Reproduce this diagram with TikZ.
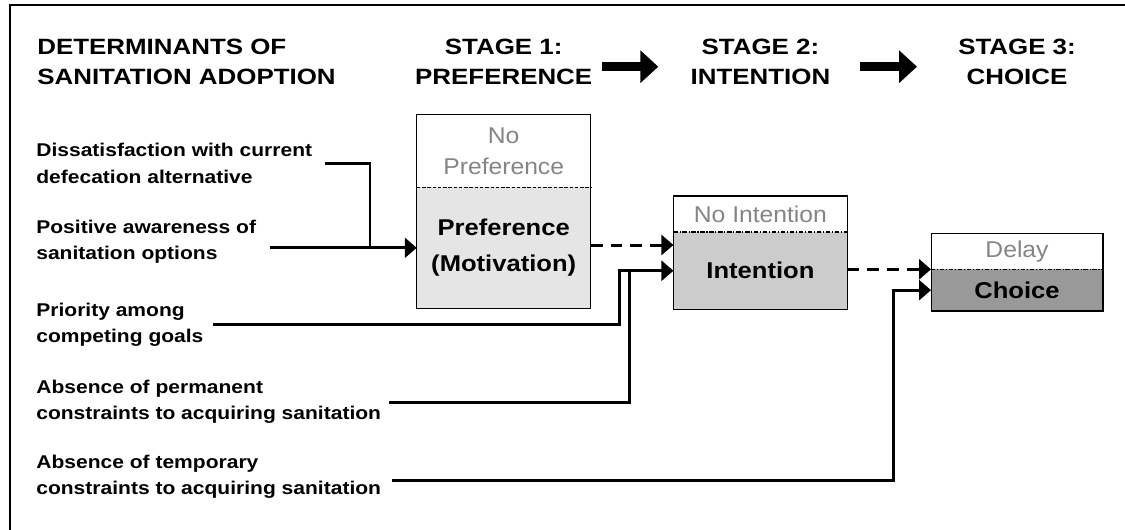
\documentclass[tikz,border=0pt]{standalone}
\usepackage{fontspec}
\setmainfont{Liberation Sans}
\newfontfamily\labfont[FakeStretch=1.14]{Liberation Sans}
\newfontfamily\hdfont[FakeStretch=1.17]{Liberation Sans}
\newfontfamily\boxfont[FakeStretch=1.12]{Liberation Sans}
\newfontfamily\grayfont[FakeStretch=1.08]{Liberation Sans}
\usetikzlibrary{arrows.meta}
\definecolor{fillA}{gray}{0.90}
\definecolor{fillB}{gray}{0.80}
\definecolor{fillC}{gray}{0.60}
\definecolor{graytxt}{gray}{0.52}
\begin{document}
\begin{tikzpicture}[x=0.02cm,y=-0.02cm,
  lab/.style={font=\labfont\bfseries\fontsize{10.5}{15.3}\selectfont, inner sep=0pt, anchor=base west},
  hd/.style={font=\hdfont\bfseries\fontsize{12.6}{17.4}\selectfont, inner sep=0pt},
  boxtop/.style={fill=white, inner sep=0pt, outer sep=0pt, minimum width=3.48cm, align=center, text=graytxt, font=\grayfont\fontsize{13}{17.6}\selectfont},
  boxlow/.style={inner sep=0pt, outer sep=0pt, minimum width=3.48cm, align=center, font=\boxfont\bfseries\fontsize{13}{20.4}\selectfont},
  boxline/.style={draw=black, line width=0.6pt},
  conn/.style={line width=1.7pt, -{Triangle[length=6.8pt,width=11.3pt]}},
  wire/.style={line width=1.7pt},
  dconn/.style={conn, dash pattern=on 6.8pt off 4.5pt},
  stagearrow/.style={line width=5.1pt, -{Triangle[length=10.2pt,width=18pt]}},
  divA/.style={line width=0.6pt, dash pattern=on 2pt off 1pt},
  divB/.style={line width=0.6pt, dash pattern=on 2.5pt off 1pt on 0.6pt off 1pt},
  frame/.style={line width=1.1pt}
]
\useasboundingbox (0,0) rectangle (1125,529);
\draw[frame] (10,540) -- (10,5) -- (1140,5);

% headings
\node[hd, anchor=base west] (hdet) at (37,54) {\begin{tabular}[t]{@{}l@{}}DETERMINANTS OF\\SANITATION ADOPTION\end{tabular}};
\node[hd, anchor=base] (hs1) at (503.7,54) {\begin{tabular}[t]{@{}c@{}}STAGE 1:\\PREFERENCE\end{tabular}};
\node[hd, anchor=base] (hs2) at (760.4,54) {\begin{tabular}[t]{@{}c@{}}STAGE 2:\\INTENTION\end{tabular}};
\node[hd, anchor=base] (hs3) at (1017,54) {\begin{tabular}[t]{@{}c@{}}STAGE 3:\\CHOICE\end{tabular}};
\coordinate (a1s) at (601.7,66.7);
\coordinate (a1e) at (658.3,66.7);
\coordinate (a2s) at (860,66.7);
\coordinate (a2e) at (917,66.7);
\draw[stagearrow] (a1s) -- (a1e);
\draw[stagearrow] (a2s) -- (a2e);

% boxes
\node[boxtop, minimum height=1.46cm] (b1t) at (503.7,150.8) {No\\Preference};
\node[boxlow, fill=fillA, minimum height=2.42cm] (b1) at (503.7,247.8) {Preference\\(Motivation)};
\draw[boxline] (b1t.north west) rectangle (b1.south east);
\draw[divA] (b1.north west) -- (b1.north east);

\node[boxtop, minimum height=0.72cm] (b2t) at (760.4,214) {No Intention};
\node[boxlow, fill=fillB, minimum height=1.55cm] (b2) at (760.4,270.75) {Intention};
\draw[boxline] (b2t.north west) rectangle (b2.south east);
\draw[divB] (b2.north west) -- (b2.north east);

\node[boxtop, minimum width=3.44cm, minimum height=0.72cm] (b3t) at (1017,251.3) {Delay};
\node[boxlow, fill=fillC, minimum width=3.44cm, minimum height=0.834cm] (b3) at (1017,290.15) {Choice};
\draw[boxline] (b3t.north west) rectangle (b3.south east);
\draw[divB] (b3.north west) -- (b3.north east);

% labels
\node[lab] (l1) at (36,156.7) {\begin{tabular}[t]{@{}l@{}}Dissatisfaction with current\\defecation alternative\end{tabular}};
\node[lab] (l2) at (36,233) {\begin{tabular}[t]{@{}l@{}}Positive awareness of\\sanitation options\end{tabular}};
\node[lab] (l3) at (36,316) {\begin{tabular}[t]{@{}l@{}}Priority among\\competing goals\end{tabular}};
\node[lab] (l4) at (36,393) {\begin{tabular}[t]{@{}l@{}}Absence of permanent\\constraints to acquiring sanitation\end{tabular}};
\node[lab] (l5) at (36,468) {\begin{tabular}[t]{@{}l@{}}Absence of temporary\\constraints to acquiring sanitation\end{tabular}};

% connectors
\coordinate (dis0) at (325,163.3);
\coordinate (j1) at (370,247.8);
\coordinate (pos0) at (270,247.8);
\draw[wire] (dis0) -| (j1);
\draw[conn] (pos0) -- (b1.west);

\coordinate (d12) at (0,245);
\draw[dconn] (b1.east |- d12) -- (b2.west |- d12);

\coordinate (pri0) at (213,324);
\coordinate (j2) at (619,270.75);
\draw[conn] (pri0) -| (j2) -- (b2.west);
\coordinate (per0) at (389,402.7);
\coordinate (j3) at (629.3,270.75);
\draw[wire] (per0) -| (j3);

\draw[dconn] (b2.east |- b3.north west) -- (b3.north west);

\coordinate (tmp0) at (392,480);
\coordinate (j4) at (893.3,290.15);
\draw[conn] (tmp0) -| (j4) -- (b3.west);
\end{tikzpicture}
\end{document}
